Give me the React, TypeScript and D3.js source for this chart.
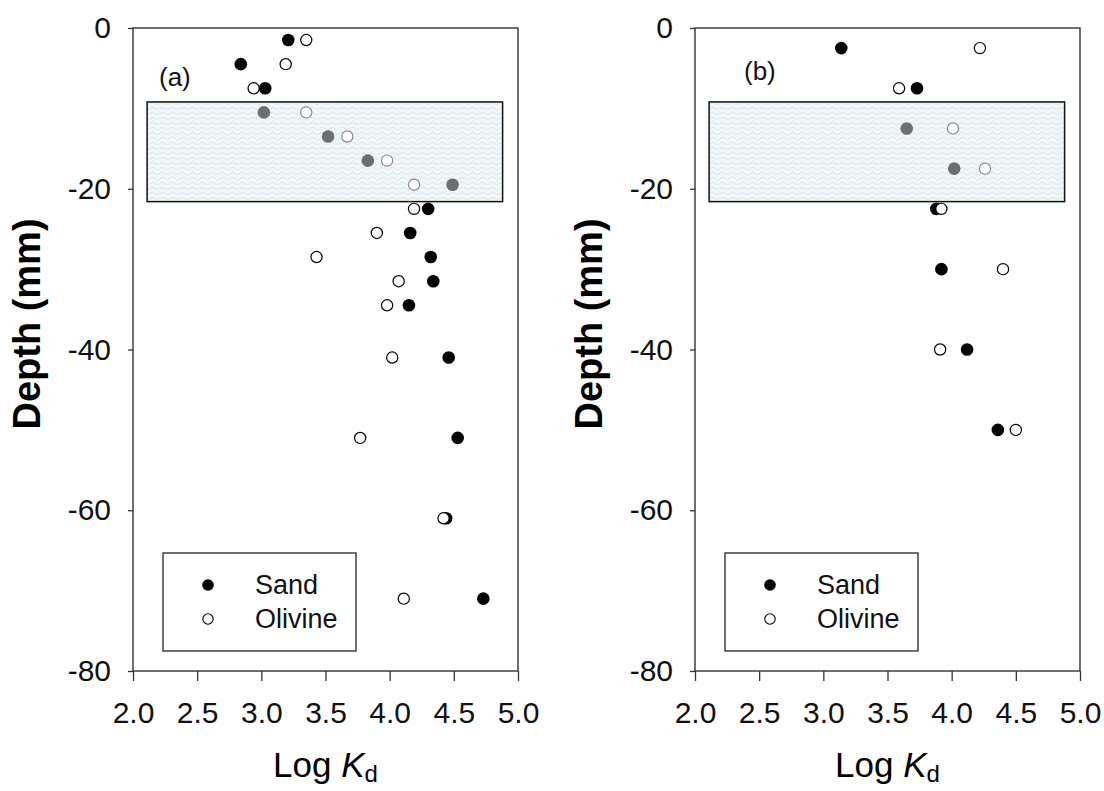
import * as d3 from 'd3';
import { useRef, useEffect } from 'react';

// panel (a): depth (mm) and log Kd for sand / olivine
const depthA = [-1.5, -4.5, -7.5, -10.5, -13.5, -16.5, -19.5, -22.5, -25.5, -28.5, -31.5, -34.5, -41, -51, -61, -71];
const sandA = [3.21, 2.84, 3.03, 3.02, 3.52, 3.83, 4.49, 4.3, 4.16, 4.32, 4.34, 4.15, 4.46, 4.53, 4.44, 4.73];
const olivineA = [3.35, 3.19, 2.94, 3.35, 3.67, 3.98, 4.19, 4.19, 3.9, 3.43, 4.07, 3.98, 4.02, 3.77, 4.42, 4.11];

// panel (b)
const depthB = [-2.5, -7.5, -12.5, -17.5, -22.5, -30, -40, -50];
const sandB = [3.14, 3.73, 3.65, 4.02, 3.88, 3.92, 4.12, 4.36];
const olivineB = [4.22, 3.59, 4.01, 4.26, 3.92, 4.4, 3.91, 4.5];

// shaded zone
const zoneDepth = [-9.2, -21.6];
const zoneLogKd = [2.11, 4.88];

const xTicks = [2.0, 2.5, 3.0, 3.5, 4.0, 4.5, 5.0];
const yTicks = [0, -20, -40, -60, -80];
const seriesNames = ['Sand', 'Olivine'];

const FONT = '"Liberation Sans", Arial, Helvetica, sans-serif';

export default function App() {
  const svgRef = useRef(null);

  useEffect(() => {
    const width = 1104;
    const height = 791;
    const top = 28;
    const bottom = 671;
    const plotW = 385;

    const svg = d3.select(svgRef.current)
      .attr('width', width)
      .attr('height', height);
    svg.selectAll('*').remove();

    svg.append('rect').attr('width', width).attr('height', height).attr('fill', '#fff');

    // wavy fill for the zone
    const pat = svg.append('defs').append('pattern')
      .attr('id', 'waves')
      .attr('patternUnits', 'userSpaceOnUse')
      .attr('width', 10)
      .attr('height', 5);
    pat.append('rect').attr('width', 10).attr('height', 5).attr('fill', '#f1f7f8');
    pat.append('path')
      .attr('d', 'M0,3.5 Q2.5,0.8 5,3.5 T10,3.5')
      .attr('fill', 'none')
      .attr('stroke', '#d0e0e4')
      .attr('stroke-width', 0.8);

    const panels = [
      { label: '(a)', depth: depthA, sand: sandA, olivine: olivineA, left: 133, labelDx: 26, labelY: 86 },
      { label: '(b)', depth: depthB, sand: sandB, olivine: olivineB, left: 695, labelDx: 49, labelY: 80 },
    ];

    const inZone = (d) => d <= zoneDepth[0] && d >= zoneDepth[1];

    panels.forEach((p) => {
      const x = d3.scaleLinear().domain([2, 5]).range([p.left, p.left + plotW]);
      const y = d3.scaleLinear().domain([0, -80]).range([top, bottom]);
      const g = svg.append('g');

      // shaded zone
      g.append('rect')
        .attr('x', x(zoneLogKd[0]))
        .attr('y', y(zoneDepth[0]))
        .attr('width', x(zoneLogKd[1]) - x(zoneLogKd[0]))
        .attr('height', y(zoneDepth[1]) - y(zoneDepth[0]))
        .attr('fill', 'url(#waves)')
        .attr('stroke', '#111')
        .attr('stroke-width', 1.5);

      // frame
      g.append('rect')
        .attr('x', x(2))
        .attr('y', y(0))
        .attr('width', x(5) - x(2))
        .attr('height', y(-80) - y(0))
        .attr('fill', 'none')
        .attr('stroke', '#333')
        .attr('stroke-width', 1.4);

      // axes
      const yAxis = g.append('g')
        .attr('transform', `translate(${x(2)},0)`)
        .call(d3.axisLeft(y).tickValues(yTicks).tickSize(5).tickPadding(17).tickFormat((d) => String(d)));
      const xAxis = g.append('g')
        .attr('transform', `translate(0,${y(-80)})`)
        .call(d3.axisBottom(x).tickValues(xTicks).tickSize(10).tickPadding(21).tickFormat(d3.format('.1f')));
      [yAxis, xAxis].forEach((a) => {
        a.select('.domain').remove();
        a.selectAll('line').attr('stroke', '#333').attr('stroke-width', 1.3);
        a.selectAll('text')
          .attr('font-family', FONT)
          .attr('font-size', 30)
          .attr('fill', '#111');
      });

      // sand (filled) first, olivine (open) drawn on top
      g.selectAll('.sand')
        .data(p.depth)
        .enter().append('circle')
        .attr('cx', (d, i) => x(p.sand[i]))
        .attr('cy', (d) => y(d))
        .attr('r', 6.3)
        .attr('fill', (d) => (inZone(d) ? '#6e6e6e' : '#000'));

      g.selectAll('.olivine')
        .data(p.depth)
        .enter().append('circle')
        .attr('cx', (d, i) => x(p.olivine[i]))
        .attr('cy', (d) => y(d))
        .attr('r', 5.6)
        .attr('fill', '#fff')
        .attr('stroke', (d) => (inZone(d) ? '#8a8a8a' : '#000'))
        .attr('stroke-width', 1.2);

      // panel label
      g.append('text')
        .attr('x', p.left + p.labelDx)
        .attr('y', p.labelY)
        .attr('font-family', FONT)
        .attr('font-size', 26)
        .attr('fill', '#111')
        .text(p.label);

      // legend
      const lg = g.append('g').attr('transform', `translate(${p.left + 30},553)`);
      lg.append('rect')
        .attr('width', 193)
        .attr('height', 98)
        .attr('fill', '#fff')
        .attr('stroke', '#333')
        .attr('stroke-width', 1.4);
      seriesNames.forEach((name, i) => {
        lg.append('circle')
          .attr('cx', 45)
          .attr('cy', 32 + i * 34)
          .attr('r', i === 0 ? 5.8 : 5.2)
          .attr('fill', i === 0 ? '#000' : '#fff')
          .attr('stroke', '#000')
          .attr('stroke-width', i === 0 ? 0 : 1.1);
        lg.append('text')
          .attr('x', 92)
          .attr('y', 41 + i * 34)
          .attr('font-family', FONT)
          .attr('font-size', 27)
          .attr('fill', '#111')
          .text(name);
      });

      // axis titles
      g.append('text')
        .attr('transform', `translate(${p.left - 93},324) rotate(-90)`)
        .attr('text-anchor', 'middle')
        .attr('font-family', FONT)
        .attr('font-size', 38)
        .attr('font-weight', 'bold')
        .attr('fill', '#000')
        .text('Depth (mm)');

      const xt = g.append('text')
        .attr('x', (x(2) + x(5)) / 2)
        .attr('y', 777)
        .attr('text-anchor', 'middle')
        .attr('font-family', FONT)
        .attr('font-size', 35)
        .attr('fill', '#000');
      xt.append('tspan').text('Log ');
      xt.append('tspan').attr('font-style', 'italic').text('K');
      xt.append('tspan').attr('font-size', 24).attr('dy', 5).text('d');
    });
  }, []);

  return (
    <div style={{ position: 'absolute', left: 0, top: 0 }}>
      <svg ref={svgRef} style={{ display: 'block' }}></svg>
    </div>
  );
}
